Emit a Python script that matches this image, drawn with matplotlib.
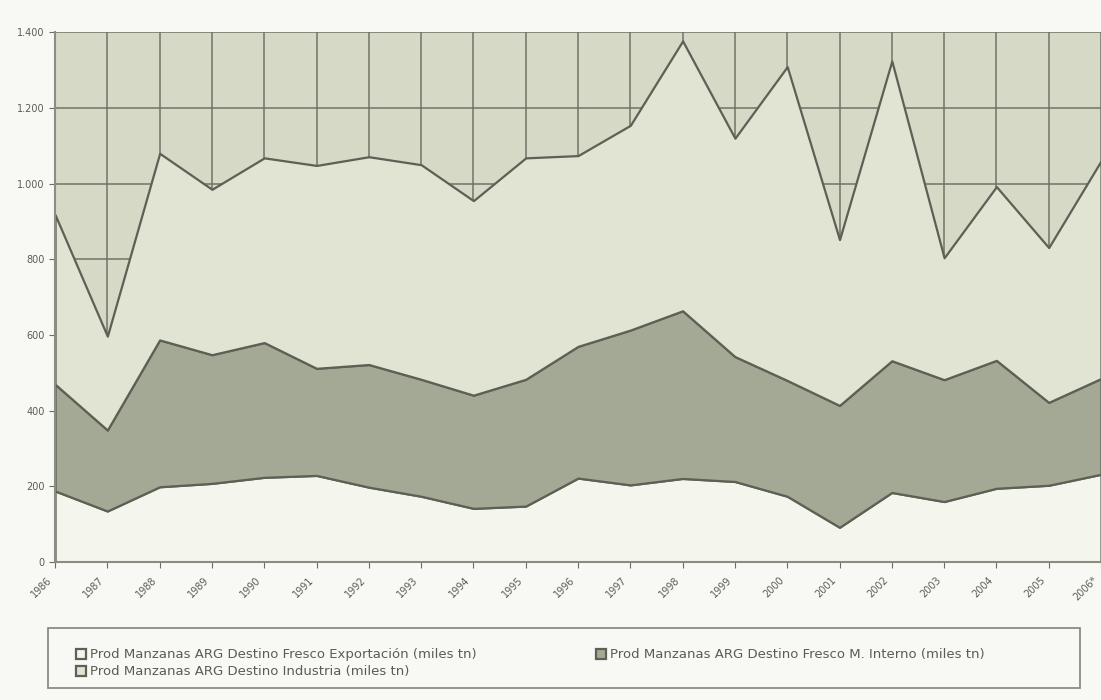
import numpy as np
import matplotlib.pyplot as plt
from matplotlib.patches import Rectangle

years = ['1986', '1987', '1988', '1989', '1990', '1991', '1992', '1993', '1994', '1995',
         '1996', '1997', '1998', '1999', '2000', '2001', '2002', '2003', '2004', '2005', '2006*']

# miles de toneladas
exportacion = [188, 135, 199, 208, 224, 229, 198, 174, 142, 148, 222, 204, 221, 213, 174, 92, 184, 160, 195, 203, 232]
mercado_interno = [282, 214, 388, 340, 356, 283, 324, 309, 299, 335, 348, 409, 443, 330, 306, 322, 348, 322, 338, 219, 253]
industria = [448, 248, 493, 437, 488, 536, 549, 567, 514, 585, 504, 541, 713, 577, 829, 438, 792, 322, 459, 409, 575]

labels = ['Prod Manzanas ARG Destino Fresco Exportación (miles tn)',
          'Prod Manzanas ARG Destino Fresco M. Interno (miles tn)',
          'Prod Manzanas ARG Destino Industria (miles tn)']

x = np.arange(len(years))

fig = plt.figure(figsize=(11.01, 7), dpi=100, facecolor='#f8f8f4')
ax = fig.add_axes([0.05, 0.197, 0.95, 0.757])
ax.set_facecolor('#d6d9c6')

cols = ['#f4f5ec', '#a4a995', '#e1e3d3']
polys = ax.stackplot(x, exportacion, mercado_interno, industria, colors=cols,
                     edgecolor='#5c6055', linewidth=1.6, zorder=3)

ax.set_xlim(0, len(years) - 1)
ax.set_ylim(0, 1400)
ax.set_yticks(range(0, 1401, 200))
ax.set_yticklabels(['{:,}'.format(v).replace(',', '.') for v in range(0, 1401, 200)])
ax.set_xticks(x)
ax.set_xticklabels([])
# year labels sit a little left of each tick
for xi, yr in zip(x, years):
    ax.annotate(yr, (xi, 0), xycoords=('data', 'axes fraction'), xytext=(-6, -9),
                textcoords='offset points', rotation=45, ha='right', va='top',
                rotation_mode='anchor', fontsize=7, color='#5a5d54', annotation_clip=False)

ax.grid(True, color='#6f7367', linewidth=1.1, zorder=1)
ax.set_axisbelow(True)
for s in ['top', 'right']:
    ax.spines[s].set_visible(False)
for s in ['left', 'bottom']:
    ax.spines[s].set_color('#8a8d82')
    ax.spines[s].set_linewidth(1.5)
    ax.spines[s].set_zorder(4)
ax.tick_params(axis='both', colors='#6b6e64', labelsize=7, length=4, labelcolor='#5a5d54')

# legend box drawn by hand so it spans the width under the plot
fig.patches.append(Rectangle((0.044, 0.017), 0.937, 0.086, transform=fig.transFigure,
                             fill=False, edgecolor='#8a8d82', linewidth=1.3))
leg = fig.legend([polys[0], polys[2], polys[1]], [labels[0], labels[2], labels[1]],
                 ncol=2, loc='lower left', bbox_to_anchor=(0.058, 0.014),
                 fontsize=9.5, frameon=False, handlelength=0.8, handleheight=0.8,
                 handletextpad=0.3, labelspacing=0.3, columnspacing=9.0,
                 labelcolor='#5a5d54')

fig.savefig('out.png', dpi=100, facecolor=fig.get_facecolor())
